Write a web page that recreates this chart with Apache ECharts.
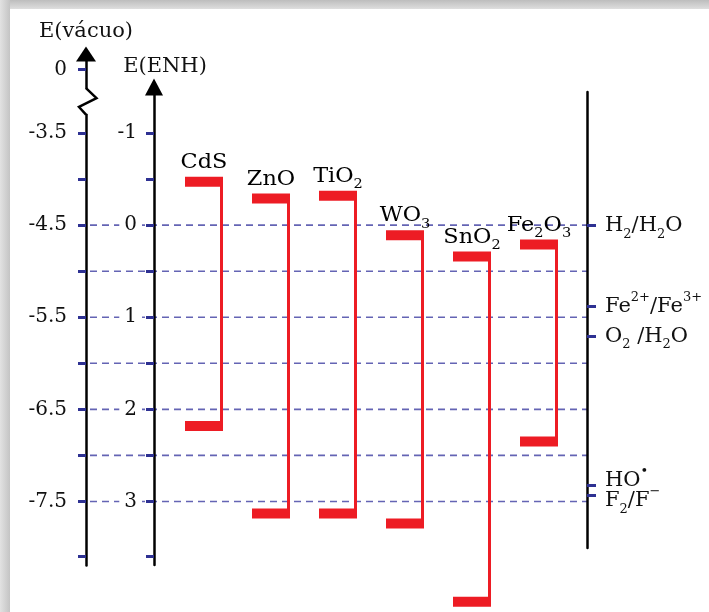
<!DOCTYPE html>
<html lang="pt">
<head>
<meta charset="utf-8">
<title>Potenciais de banda</title>
<script src="https://cdn.jsdelivr.net/npm/echarts@6.0.0/dist/echarts.min.js"></script>
<style>
  html, body { margin: 0; padding: 0; background: #fff; }
  #chart { width: 709px; height: 612px; }
</style>
</head>
<body>
<div id="chart"></div>
<script>
// Semiconductor band edges, V vs ENH (conduction band on top, valence band below)
const materials = ['CdS', 'ZnO', 'TiO_2', 'WO_3', 'SnO_2', 'Fe_2O_3'];
const conductionBand = [-0.47, -0.29, -0.32, 0.11, 0.34, 0.21];
const valenceBand = [2.18, 3.13, 3.13, 3.24, 4.09, 2.35];

// Redox couples on the right-hand scale, V vs ENH
const couples = ['H_2/H_2O', 'Fe^2+/Fe^3+', 'O_2 /H_2O', 'HO^\u2022', 'F_2/F^\u2212'];
const couplePotentials = [0, 0.88, 1.2, 2.82, 2.93];

// ENH scale
const enhTicks = [-1, -0.5, 0, 0.5, 1, 1.5, 2, 2.5, 3, 3.6];
const enhLabels = [-1, 0, 1, 2, 3];
const referenceLevels = [0, 0.5, 1, 1.5, 2, 2.5, 3];

// Vacuum scale: E(vácuo) = -4.5 - E(ENH); the stretch between about -3.3 and 0 is cut out
const vacuumTicks = [0, -3.5, -4, -4.5, -5, -5.5, -6, -6.5, -7, -7.5, -8.1];
const vacuumLabels = [0, -3.5, -4.5, -5.5, -6.5, -7.5];
const vacuumBreak = [-3.3, -0.2];

// ---- styling / layout ----
const RED = '#ed1c24';
const BLUE = '#2e3192';
const DASH = '#6464b4';
const INK = '#111';
const SERIF = '"DejaVu Serif", "Liberation Serif", serif';

const ENH_MIN = -1.5, ENH_MAX = 3.69;
const VAC_SHIFT = -4.5;
const VAC_MIN = VAC_SHIFT - ENH_MAX;
const VAC_MAX = 0.17;
const VAC_GAP = 0.289;

const MAIN_LEFT = 88, MAIN_RIGHT = 122;
const COL0 = 204, COL_STEP = 67;
const colMin = -(COL0 - MAIN_LEFT) / COL_STEP;
const colMax = colMin + (709 - MAIN_RIGHT - MAIN_LEFT) / COL_STEP;

// couples whose potentials sit close together share one stacked label
const coupleLabelGroups = [[0], [1], [2], [3, 4]];
const coupleLabelValues = coupleLabelGroups.map(g => g.reduce((a, k) => a + couplePotentials[k], 0) / g.length);

// "_x" -> subscript, "^x" -> superscript
function parseMarkup(str) {
  const tokens = [];
  const re = /([_^])([0-9+\u2212\u2022]+)|([^_^]+)/g;
  let m;
  while ((m = re.exec(str))) {
    if (m[3]) tokens.push(['m', m[3]]);
    else tokens.push([m[1] === '_' ? 's' : 'p', m[2]]);
  }
  return tokens;
}
function toRich(str) {
  return parseMarkup(str).map(([t, s]) => '{' + t + '|' + s + '}').join('');
}
function richStyles(size, small, lineH, offs) {
  const pad = s => (s >= 0 ? [2 * s, 0, 0, 0] : [0, 0, -2 * s, 0]);
  const base = { fontFamily: SERIF, color: INK, lineHeight: lineH };
  return {
    m: Object.assign({}, base, { fontSize: size }),
    s: Object.assign({}, base, { fontSize: small, padding: pad(offs) }),
    p: Object.assign({}, base, { fontSize: small, padding: pad(-offs) })
  };
}

const coupleRich = richStyles(21, 13, 20, 9);
const materialRich = richStyles(20, 13, 24, 8);

const chart = echarts.init(document.getElementById('chart'), null, { renderer: 'canvas' });

const tickText = { fontFamily: SERIF, fontSize: 20, color: INK };

chart.setOption({
  animation: false,
  backgroundColor: '#fff',
  graphic: [
    {
      type: 'rect', z: -10, silent: true,
      shape: { x: 0, y: 0, width: 709, height: 9 },
      style: { fill: new echarts.graphic.LinearGradient(0, 0, 0, 1, [
        { offset: 0, color: '#bdbdbd' }, { offset: 1, color: '#dedede' }]) }
    },
    {
      type: 'rect', z: -10, silent: true,
      shape: { x: 0, y: 0, width: 10, height: 612 },
      style: { fill: new echarts.graphic.LinearGradient(0, 0, 1, 0, [
        { offset: 0, color: '#e2e2e2' }, { offset: 1, color: '#c4c4c4' }]) }
    }
  ],
  grid: [
    { left: 86, width: 1, top: 54, bottom: 47, containLabel: false, outerBoundsMode: 'none' },
    { left: MAIN_LEFT, right: MAIN_RIGHT, top: 87, bottom: 47, containLabel: false, outerBoundsMode: 'none' },
    { left: 709 - MAIN_RIGHT - 1, right: MAIN_RIGHT, top: 92, bottom: 64, containLabel: false, outerBoundsMode: 'none' }
  ],
  xAxis: [
    { gridIndex: 0, type: 'value', min: 0, max: 1, show: false },
    { gridIndex: 1, type: 'value', min: colMin, max: colMax, show: false },
    { gridIndex: 2, type: 'value', min: 0, max: 1, show: false }
  ],
  yAxis: [
    {
      gridIndex: 0, type: 'value', position: 'left', z: 2,
      min: VAC_MIN, max: VAC_MAX,
      breaks: [{ start: vacuumBreak[0], end: vacuumBreak[1], gap: VAC_GAP }],
      breakArea: { show: false },
      name: 'E(vácuo)', nameLocation: 'end', nameGap: 12, nameMoveOverlap: false,
      nameTextStyle: { fontFamily: SERIF, fontSize: 21, color: INK },
      axisLine: { show: true, onZero: false, symbol: ['none', 'triangle'], symbolSize: [20, 15],
        lineStyle: { color: '#000', width: 2.5 } },
      axisTick: { show: true, customValues: vacuumTicks, length: 8, lineStyle: { color: BLUE, width: 3 } },
      axisLabel: { show: true, customValues: vacuumLabels, margin: 19, hideOverlap: false,
        formatter: v => (v === 0 ? '0' : v.toFixed(1)), ...tickText },
      splitLine: { show: false }
    },
    {
      gridIndex: 1, type: 'value', position: 'left', offset: -(154 - MAIN_LEFT), inverse: true, z: 2,
      min: ENH_MIN, max: ENH_MAX,
      name: 'E(ENH)', nameLocation: 'start', nameGap: 10, nameMoveOverlap: false,
      nameTextStyle: { fontFamily: SERIF, fontSize: 21, color: INK, padding: [0, 0, 0, 22] },
      axisLine: { show: true, onZero: false, symbol: ['none', 'triangle'], symbolSize: [18, 17],
        lineStyle: { color: '#000', width: 2.5 } },
      axisTick: { show: true, customValues: enhTicks, length: 8, lineStyle: { color: BLUE, width: 3 } },
      axisLabel: { show: true, customValues: enhLabels, margin: 12, hideOverlap: false,
        backgroundColor: '#fff', padding: [0, 5],
        formatter: v => String(v), ...tickText },
      splitLine: { show: false }
    },
    {
      gridIndex: 2, type: 'value', position: 'right', inverse: true, z: 2,
      min: -1.45, max: 3.5,
      axisLine: { show: true, onZero: false, lineStyle: { color: '#000', width: 2.5 } },
      axisTick: { show: true, customValues: couplePotentials, length: 9, lineStyle: { color: BLUE, width: 3 } },
      axisLabel: { show: true, customValues: coupleLabelValues, margin: 18, hideOverlap: false,
        formatter: v => {
          const g = coupleLabelGroups[coupleLabelValues.indexOf(v)];
          return g.map(k => toRich(couples[k])).join('\n');
        },
        rich: coupleRich },
      splitLine: { show: false }
    }
  ],
  series: [
    {
      // dashed reference levels every 0.5 V
      type: 'custom', xAxisIndex: 1, yAxisIndex: 1, z: 1, silent: true,
      data: referenceLevels.map(v => [0, v]),
      renderItem(params, api) {
        const y = api.coord([0, api.value(1)])[1];
        const cs = params.coordSys;
        return {
          type: 'line',
          shape: { x1: cs.x + 2, y1: y, x2: cs.x + cs.width, y2: y },
          style: { stroke: DASH, lineWidth: 1.6, lineDash: [7, 5] }
        };
      }
    },
    {
      // band edges: conduction band (top bar), valence band (bottom bar), joined on the right
      type: 'custom', xAxisIndex: 1, yAxisIndex: 1, z: 5, silent: true,
      data: materials.map((m, i) => [i, conductionBand[i], valenceBand[i]]),
      renderItem(params, api) {
        const top = api.coord([api.value(0), api.value(1)]);
        const bot = api.coord([api.value(0), api.value(2)]);
        const w = 38, h = 10, lw = 3;
        const x0 = top[0] - w / 2;
        return {
          type: 'group',
          children: [
            { type: 'rect', shape: { x: x0, y: top[1] - h / 2, width: w, height: h }, style: { fill: RED } },
            { type: 'rect', shape: { x: x0, y: bot[1] - h / 2, width: w, height: h }, style: { fill: RED } },
            { type: 'rect', shape: { x: x0 + w - lw, y: top[1], width: lw, height: bot[1] - top[1] }, style: { fill: RED } },
            {
              type: 'text', x: top[0], y: top[1] - h / 2 - 14, scaleX: 1.12,
              style: {
                text: toRich(materials[params.dataIndex]), x: 0, y: 0,
                align: 'center', verticalAlign: 'middle', rich: materialRich
              }
            }
          ]
        };
      }
    },
    {
      // zig-zag marking the cut in the vacuum scale
      type: 'custom', xAxisIndex: 0, yAxisIndex: 0, z: 5, silent: true,
      data: [[0, vacuumBreak[0], vacuumBreak[1]]],
      renderItem(params, api) {
        const lo = api.coord([0, api.value(1)]);
        const hi = api.coord([0, api.value(2)]);
        const x = lo[0], yb = lo[1], yt = hi[1], h = yb - yt;
        return {
          type: 'group',
          children: [
            { type: 'rect', shape: { x: x - 3, y: yt + 1, width: 6, height: h - 2 }, style: { fill: '#fff' } },
            { type: 'polyline',
              shape: { points: [[x, yt], [x + 10.5, yt + 0.38 * h], [x - 7, yt + 0.71 * h], [x, yb]] },
              style: { stroke: '#000', lineWidth: 2.5, fill: null } }
          ]
        };
      }
    }
  ]
});
</script>
</body>
</html>
